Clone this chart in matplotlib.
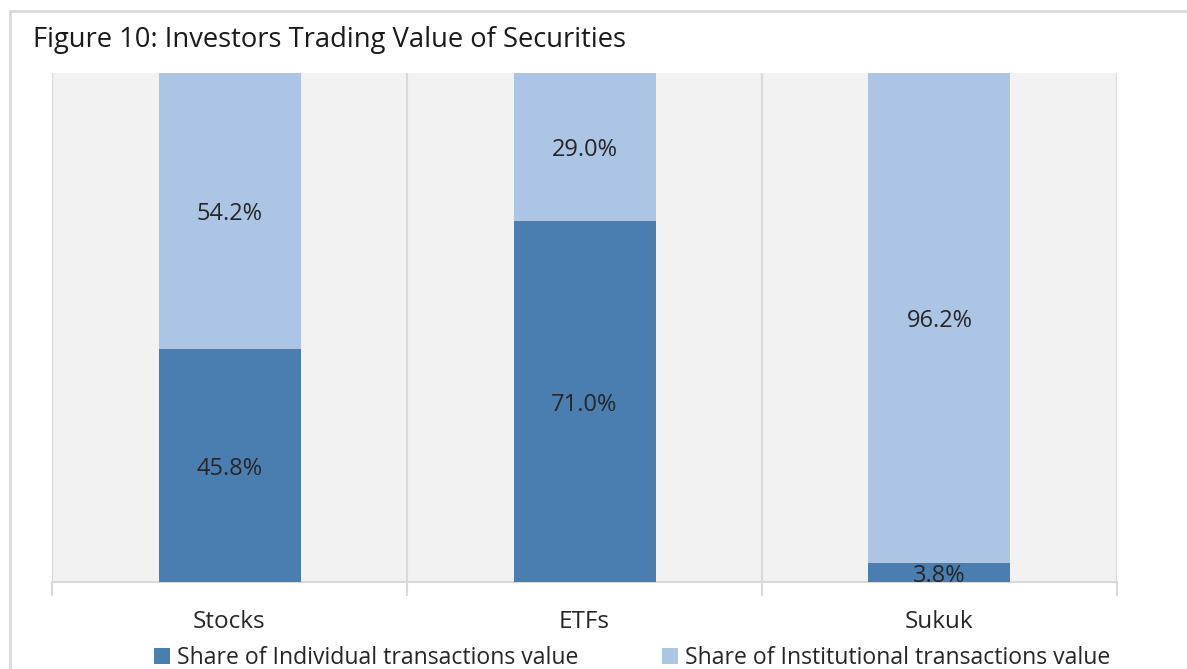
import matplotlib
matplotlib.use("Agg")
import matplotlib.pyplot as plt
from matplotlib.patches import Rectangle

categories = ["Stocks", "ETFs", "Sukuk"]
individual = [45.8, 71.0, 3.8]
institutional = [54.2, 29.0, 96.2]
series_names = ["Share of Individual transactions value", "Share of Institutional transactions value"]

plt.rcParams['font.family'] = ['Open Sans', 'DejaVu Sans']

W, H = 1187, 669
fig = plt.figure(figsize=(W/100, H/100), dpi=100)
fig.patch.set_facecolor("white")

# outer border
fig.patches.append(Rectangle((10/W, -0.1), 1.2, 1.1 - 11.5/H, transform=fig.transFigure,
                             fill=False, edgecolor="#d9d9d9", linewidth=2))

ax = fig.add_axes([52/W, (H-582)/H, 1065/W, 509/H])
ax.set_facecolor("#f2f2f2")
c_dark = "#4a7eb0"
c_light = "#adc5e5"
x = [i + 0.5 for i in range(len(categories))]
ax.bar(x, individual, width=0.4, color=c_dark, zorder=3, label=series_names[0])
ax.bar(x, institutional, width=0.4, bottom=individual, color=c_light, zorder=3, label=series_names[1])

for xi, a, b in zip(x, individual, institutional):
    for ypos, val in ((a/2, a), (a + b/2, b)):
        ax.annotate(f"{val:.1f}%", (xi, ypos), xytext=(0, -2.5), textcoords="offset points",
                    ha="center", va="center", fontsize=17, color="#262626", zorder=4)

ax.set_xlim(0, 3)
ax.set_ylim(0, 100)
for v in range(4):
    ax.axvline(v, color="#d9d9d9", linewidth=1.5, zorder=1)
for s in ["top", "left", "right"]:
    ax.spines[s].set_visible(False)
ax.spines["bottom"].set_color("#d9d9d9")
ax.spines["bottom"].set_linewidth(1.5)
ax.set_yticks([])
ax.set_xticks(x)
ax.set_xticklabels(categories, fontsize=17.5, color="#262626")
ax.tick_params(axis="x", which="major", length=0, pad=20.5)
ax.set_xticks([0, 1, 2, 3], minor=True)
ax.tick_params(axis="x", which="minor", length=10, color="#d9d9d9", width=1.5)

fig.text(33/W, 1 - 40/H, "Figure 10: Investors Trading Value of Securities", fontsize=19.7,
         color="#1a1a1a", va="center", ha="left")

handles, labels = ax.get_legend_handles_labels()
fig.legend(handles, labels, loc="center", bbox_to_anchor=(632/W, 1 - 658/H), ncol=2,
           frameon=False, fontsize=16.6, handlelength=0.7, handleheight=0.7, handletextpad=0.3,
           columnspacing=3.6, labelcolor="#262626", borderpad=0)

fig.savefig("out.png", dpi=100, facecolor="white")
